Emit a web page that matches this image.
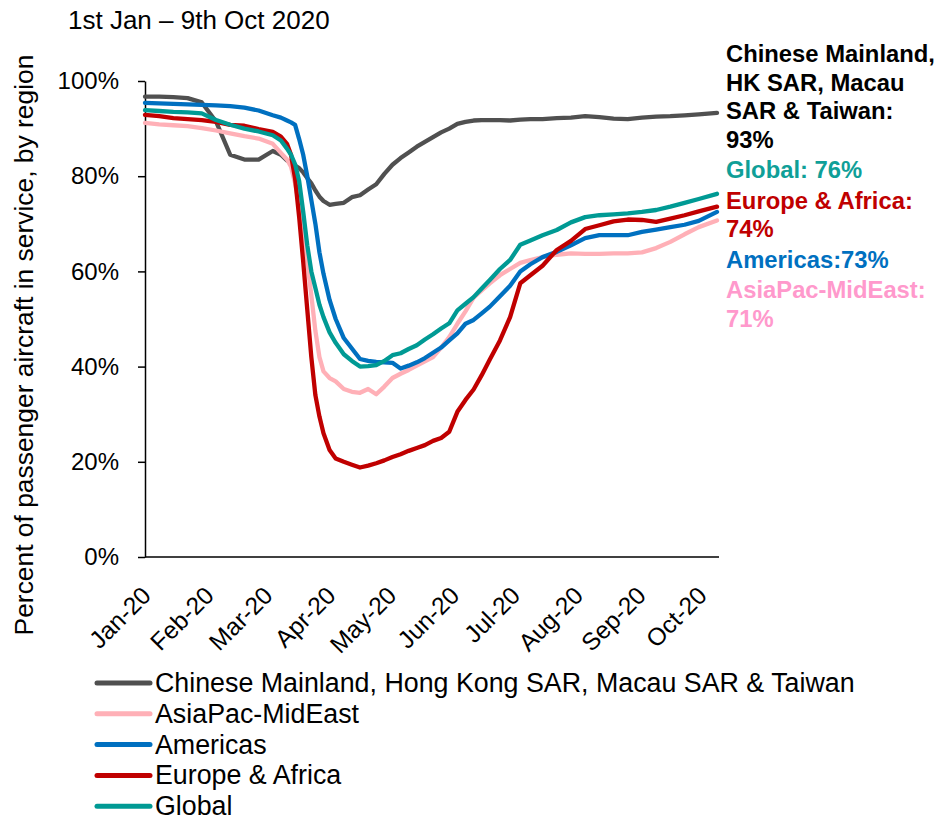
<!DOCTYPE html>
<html>
<head>
<meta charset="utf-8">
<script src="https://cdn.jsdelivr.net/npm/d3@7"></script>
<style>
  body { margin: 0; background: #fff; }
  svg { font-family: 'Liberation Sans', Arial, sans-serif; }
</style>
</head>
<body>
<div id="container"></div>
<script>
// Data (share of passenger fleet in service, %)
const dates = [
  '2020-01-01', '2020-01-08', '2020-01-15', '2020-01-22', '2020-01-29', '2020-02-05',
  '2020-02-12', '2020-02-19', '2020-02-26', '2020-03-04', '2020-03-08', '2020-03-11',
  '2020-03-13', '2020-03-15', '2020-03-17', '2020-03-19', '2020-03-21', '2020-03-23',
  '2020-03-25', '2020-03-27', '2020-03-29', '2020-04-01', '2020-04-04', '2020-04-08',
  '2020-04-12', '2020-04-16', '2020-04-20', '2020-04-24', '2020-04-28', '2020-05-02',
  '2020-05-06', '2020-05-10', '2020-05-14', '2020-05-18', '2020-05-22', '2020-05-26',
  '2020-05-30', '2020-06-03', '2020-06-07', '2020-06-11', '2020-06-15', '2020-06-19',
  '2020-06-24', '2020-06-29', '2020-07-04', '2020-07-09', '2020-07-15', '2020-07-22',
  '2020-07-29', '2020-08-05', '2020-08-12', '2020-08-19', '2020-08-26', '2020-09-02',
  '2020-09-09', '2020-09-16', '2020-09-23', '2020-09-30', '2020-10-09'
];

const chinaHK = [
  96.7, 96.7, 96.6, 96.4, 95.5, 91.5, 84.5, 83.5, 83.5, 85.3, 84.5, 83.3,
  82.8, 82.2, 81.7, 80.8, 79.6, 78.5, 77.0, 75.7, 74.8, 74.0, 74.2, 74.4,
  75.6, 76.0, 77.2, 78.3, 80.5, 82.4, 83.8, 85.0, 86.2, 87.2, 88.2, 89.2,
  90.0, 91.0, 91.4, 91.7, 91.8, 91.8, 91.8, 91.7, 91.9, 92.0, 92.0, 92.2,
  92.3, 92.6, 92.4, 92.1, 92.0, 92.3, 92.5, 92.6, 92.8, 93.0, 93.3
];

const asiaPac = [
  91.2, 90.9, 90.7, 90.5, 90.1, 89.6, 89.0, 88.4, 87.9, 86.8, 84.9, 83.5,
  82.0, 78.5, 74.0, 68.0, 62.0, 55.0, 47.5, 42.0, 39.0, 37.6, 36.9, 35.3,
  34.7, 34.5, 35.3, 34.2, 35.8, 37.6, 38.5, 39.3, 40.2, 41.1, 42.0, 44.0,
  46.2, 49.0, 51.6, 54.5, 56.0, 57.5, 59.2, 60.5, 61.8, 62.4, 63.0, 63.5,
  63.8, 63.7, 63.7, 63.8, 63.8, 64.0, 64.9, 66.2, 67.8, 69.3, 70.7
];

const americas = [
  95.4, 95.3, 95.2, 95.1, 95.0, 94.9, 94.7, 94.4, 93.8, 92.8, 92.3, 91.7,
  91.3, 90.8, 87.8, 84.5, 80.0, 75.0, 70.0, 64.0, 59.5, 54.0, 50.0, 46.0,
  43.8, 41.6, 41.2, 41.0, 40.9, 40.8, 39.6, 40.2, 40.9, 41.8, 42.9, 44.0,
  45.5, 47.0, 49.0, 49.8, 51.2, 52.6, 54.8, 57.0, 60.0, 61.5, 63.0, 64.1,
  65.5, 67.0, 67.6, 67.6, 67.6, 68.3, 68.8, 69.3, 69.8, 70.6, 72.5
];

const europeAfrica = [
  92.9, 92.6, 92.2, 92.0, 91.8, 91.4, 90.8, 90.6, 89.9, 89.3, 88.3, 86.8,
  84.5, 79.5, 71.4, 62.0, 52.0, 42.0, 34.0, 29.5, 26.0, 22.5, 20.7, 20.0,
  19.4, 18.8, 19.2, 19.7, 20.3, 21.0, 21.6, 22.3, 22.9, 23.5, 24.4, 25.0,
  26.3, 30.5, 33.0, 35.2, 38.2, 41.5, 45.5, 50.4, 57.5, 59.2, 61.2, 64.5,
  66.4, 68.9, 69.7, 70.5, 70.9, 70.8, 70.4, 71.1, 71.8, 72.6, 73.6
];

const global = [
  93.9, 93.7, 93.5, 93.4, 93.2, 91.8, 90.8, 90.0, 89.4, 88.6, 87.5, 85.8,
  84.5, 82.5, 79.0, 72.5, 65.5, 60.0, 56.5, 53.0, 50.4, 47.2, 45.0, 42.6,
  41.2, 40.0, 40.1, 40.3, 41.2, 42.4, 42.8, 43.7, 44.5, 45.7, 46.8, 48.0,
  49.1, 51.8, 53.2, 54.6, 56.4, 58.2, 60.5, 62.4, 65.6, 66.5, 67.6, 68.7,
  70.3, 71.4, 71.8, 72.0, 72.2, 72.5, 72.9, 73.6, 74.4, 75.2, 76.3
];

const seriesNames = [
  'Chinese Mainland, Hong Kong SAR, Macau SAR & Taiwan',
  'AsiaPac-MidEast',
  'Americas',
  'Europe & Africa',
  'Global'
];
const seriesValues = [chinaHK, asiaPac, americas, europeAfrica, global];
const seriesColors = ['#505050', '#ffb0b7', '#0070c0', '#c00000', '#009a94'];

const monthTicks = [
  '2020-01-01', '2020-02-01', '2020-03-01', '2020-04-01', '2020-05-01',
  '2020-06-01', '2020-07-01', '2020-08-01', '2020-09-01', '2020-10-01'
];
const yTicks = [0, 20, 40, 60, 80, 100];

// end-of-line labels, grouped, drawn top to bottom
const endLabels = [
  { lines: ['Chinese Mainland,', 'HK SAR, Macau', 'SAR & Taiwan:', '93%'], color: '#000000' },
  { lines: ['Global: 76%'], color: '#0f9f98' },
  { lines: ['Europe & Africa:', '74%'], color: '#c00000' },
  { lines: ['Americas:73%'], color: '#0070c0' },
  { lines: ['AsiaPac-MidEast:', '71%'], color: '#ff99cc' }
];

const title = '1st Jan \u2013 9th Oct 2020';
const yTitle = 'Percent of passenger aircraft in service, by region';

// Layout
const svgWidth = 937;
const svgHeight = 816;
const plotLeft = 145;
const plotRight = 717;
const plotTop = 81;
const plotBottom = 557;

const parse = d3.timeParse('%Y-%m-%d');
const dateValues = dates.map(parse);

const svg = d3
  .select('#container')
  .append('svg')
  .attr('width', svgWidth)
  .attr('height', svgHeight);

const xScale = d3
  .scaleTime()
  .domain([parse('2020-01-01'), parse('2020-10-09')])
  .range([plotLeft, plotRight]);

const yScale = d3
  .scaleLinear()
  .domain([0, 100])
  .range([plotBottom, plotTop]);

// Title
svg
  .append('text')
  .attr('x', 68)
  .attr('y', 29)
  .attr('font-size', 26)
  .attr('fill', '#000')
  .text(title);

// Y-AXIS
const yAxis = d3
  .axisLeft(yScale)
  .tickValues(yTicks)
  .tickFormat(d => `${d}%`)
  .tickSize(7)
  .tickSizeOuter(0)
  .tickPadding(19);

const yAxisG = svg
  .append('g')
  .attr('transform', `translate(${plotLeft}, 0)`)
  .call(yAxis);

yAxisG.selectAll('path, line').attr('stroke', '#000').attr('stroke-width', 1.5);
yAxisG.selectAll('text').attr('font-size', 24).attr('fill', '#000').attr('font-family', null);

svg
  .append('text')
  .attr('transform', 'translate(33, 345) rotate(-90)')
  .attr('text-anchor', 'middle')
  .attr('font-size', 26.4)
  .attr('fill', '#000')
  .text(yTitle);

// X-AXIS
const xAxis = d3
  .axisBottom(xScale)
  .tickValues(monthTicks.map(parse))
  .tickFormat(d3.timeFormat('%b-%y'))
  .tickSize(0)
  .tickSizeOuter(0)
  .tickPadding(0);

const xAxisG = svg
  .append('g')
  .attr('transform', `translate(0, ${plotBottom})`)
  .call(xAxis);

xAxisG.select('.domain').remove();
xAxisG
  .append('line')
  .attr('x1', plotLeft)
  .attr('x2', plotRight + 2)
  .attr('stroke', '#000')
  .attr('stroke-width', 1.5);

xAxisG
  .selectAll('text')
  .attr('font-size', 24.5)
  .attr('font-family', null)
  .attr('fill', '#000')
  .attr('text-anchor', 'end')
  .attr('y', 0)
  .attr('dy', 0)
  .attr('transform', 'translate(7, 40) rotate(-45)');

// Lines
const line = d3
  .line()
  .x((d, i) => xScale(dateValues[i]))
  .y(d => yScale(d));

svg
  .selectAll('.series')
  .data(seriesValues)
  .enter()
  .append('path')
  .attr('class', 'series')
  .attr('d', d => line(d))
  .attr('fill', 'none')
  .attr('stroke', (d, i) => seriesColors[i])
  .attr('stroke-width', 4.3)
  .attr('stroke-linejoin', 'round')
  .attr('stroke-linecap', 'round');

// End labels
let labelY = 62;
endLabels.forEach(group => {
  group.lines.forEach(txt => {
    svg
      .append('text')
      .attr('x', 726)
      .attr('y', labelY)
      .attr('font-size', 23.8)
      .attr('font-weight', 'bold')
      .attr('fill', group.color)
      .text(txt);
    labelY += 28.5;
  });
  labelY += 2;
});

// Legend
const legend = svg
  .selectAll('.legend')
  .data(seriesNames)
  .enter()
  .append('g')
  .attr('class', 'legend')
  .attr('transform', (d, i) => `translate(97, ${683 + i * 30.8})`);

legend
  .append('line')
  .attr('x1', 0)
  .attr('x2', 53)
  .attr('stroke', (d, i) => seriesColors[i])
  .attr('stroke-width', 5)
  .attr('stroke-linecap', 'round');

legend
  .append('text')
  .attr('x', 58)
  .attr('y', 9)
  .attr('font-size', 26.8)
  .attr('fill', '#000')
  .text(d => d);
</script>
</body>
</html>
